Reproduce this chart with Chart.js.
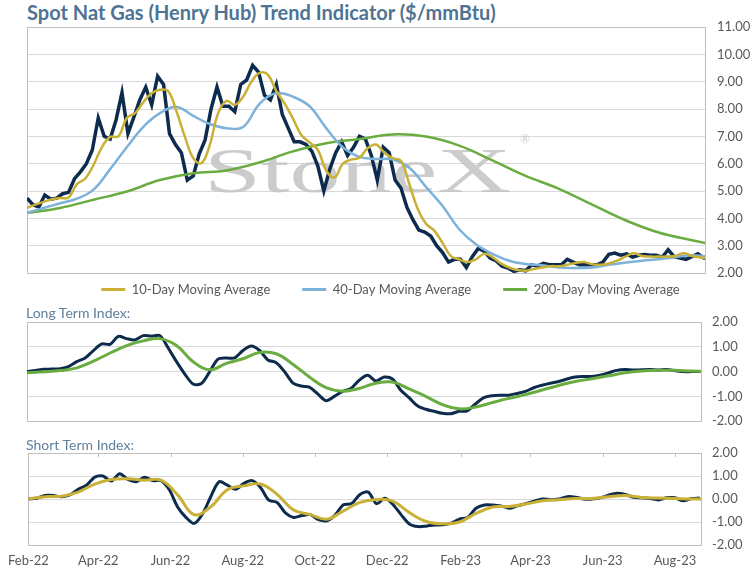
<!DOCTYPE html>
<html>
<head>
<meta charset="utf-8">
<script src="https://cdn.jsdelivr.net/npm/chart.js@4"></script>
<style>
body{margin:0;width:754px;height:573px;position:relative;background:#fff;overflow:hidden;font-family:Lato,sans-serif}
canvas{position:absolute;left:0}
#title{position:absolute;left:27px;top:0px;font-weight:bold;font-size:20px;color:#4e7394;white-space:nowrap}
.lbl{position:absolute;left:26px;color:#5f7f9b;font-size:14px;white-space:nowrap}
</style>
</head>
<body>
<div id="title">Spot Nat Gas (Henry Hub) Trend Indicator ($/mmBtu)</div>
<canvas id="priceChart" width="754" height="330" style="top:0"></canvas>
<div class="lbl" style="top:304px">Long Term Index:</div>
<canvas id="longChart" width="754" height="140" style="top:300px"></canvas>
<div class="lbl" style="top:436px">Short Term Index:</div>
<canvas id="shortChart" width="754" height="143" style="top:430px"></canvas>
<script>
// x values are days since 1 Feb 2022
var monthLabels = ['Feb-22','Apr-22','Jun-22','Aug-22','Oct-22','Dec-22','Feb-23','Apr-23','Jun-23','Aug-23'];
var monthTickDays = [0,59,120,181,242,303,365,424,485,546];

// spot price, one reading every 5 days
var spotPrice = [4.74,4.5,4.41,4.85,4.7,4.74,4.9,4.95,5.45,5.7,
  6.0,6.5,7.67,7.0,6.9,7.6,8.6,7.1,7.7,8.33,
  8.8,8.15,9.2,8.9,7.1,6.7,6.4,5.4,5.55,6.35,
  6.87,8.0,8.8,8.1,8.1,7.9,8.9,9.06,9.6,9.35,
  8.5,8.33,8.9,7.8,7.3,6.8,6.8,6.7,6.45,5.9,
  5.0,5.8,6.4,6.8,6.3,6.6,7.0,6.9,6.3,5.4,
  6.6,6.4,5.4,5.1,4.4,3.95,3.57,3.5,3.35,3.0,
  2.75,2.4,2.5,2.5,2.2,2.6,2.9,2.8,2.55,2.45,
  2.25,2.18,2.06,2.12,2.08,2.3,2.25,2.35,2.3,2.3,
  2.3,2.5,2.4,2.3,2.3,2.3,2.3,2.4,2.68,2.73,
  2.65,2.7,2.58,2.65,2.68,2.65,2.65,2.58,2.85,2.6,
  2.55,2.5,2.6,2.7,2.55,2.55];

// 10-day average, every 7 days
var ma10 = [4.38,4.5,4.6,4.7,4.74,4.76,5.25,5.45,5.95,6.6,
  6.98,7.0,7.67,7.85,8.25,8.58,8.7,8.65,7.9,6.98,
  6.2,6.02,6.7,7.85,8.3,8.15,8.45,9.0,9.32,9.25,
  8.65,8.2,7.65,7.05,6.78,6.5,5.75,5.5,6.0,6.15,
  6.22,6.57,6.7,6.4,6.2,6.1,5.25,4.35,3.8,3.55,
  3.1,2.62,2.5,2.4,2.5,2.7,2.58,2.35,2.2,2.11,
  2.08,2.15,2.2,2.25,2.25,2.3,2.37,2.4,2.32,2.3,
  2.35,2.45,2.6,2.72,2.62,2.6,2.6,2.6,2.62,2.72,
  2.62,2.57,2.55];

// 40-day average, every 14 days
var ma40 = [4.2,4.38,4.55,4.72,5.05,5.8,6.6,7.35,7.85,8.07,
  7.75,7.45,7.3,7.34,8.2,8.58,8.45,8.1,7.3,6.6,
  6.25,6.17,6.15,5.85,5.15,4.45,3.6,3.05,2.7,2.45,
  2.33,2.28,2.2,2.18,2.2,2.3,2.38,2.45,2.5,2.58,
  2.65,2.6];

// 200-day average, every 28 days
var ma200 = [4.2,4.38,4.68,4.98,5.4,5.65,5.75,6.05,6.45,6.75,
  6.9,7.07,6.99,6.66,6.12,5.55,5.08,4.5,3.93,3.48,
  3.2,2.95];

// long term index every 7 days, its signal every 14
var longTerm = [0,0.04,0.09,0.1,0.12,0.2,0.4,0.55,0.85,1.12,
  1.1,1.42,1.33,1.28,1.45,1.43,1.45,0.95,0.4,-0.1,
  -0.5,-0.48,0.0,0.5,0.55,0.55,0.85,1.03,0.85,0.47,
  0.36,0.0,-0.45,-0.58,-0.63,-0.9,-1.17,-1.0,-0.8,-0.68,
  -0.35,-0.15,-0.38,-0.22,-0.3,-0.75,-1.05,-1.38,-1.52,-1.6,
  -1.68,-1.7,-1.6,-1.58,-1.3,-1.05,-0.97,-0.95,-0.95,-0.88,
  -0.8,-0.65,-0.55,-0.47,-0.4,-0.3,-0.22,-0.2,-0.2,-0.15,
  -0.05,0.05,0.08,0.06,0.07,0.08,0.06,0.08,0.04,0.0,
  0.0,0.0];
var longSignal = [-0.05,-0.01,0.04,0.15,0.42,0.75,1.05,1.24,1.33,1.05,
  0.4,0.07,0.33,0.52,0.77,0.72,0.3,-0.22,-0.65,-0.79,
  -0.68,-0.47,-0.42,-0.7,-1.0,-1.33,-1.5,-1.43,-1.25,-1.08,
  -0.93,-0.74,-0.56,-0.4,-0.29,-0.17,-0.05,0.02,0.05,0.05,
  0.02,0];

// short term index every 7 days, its signal every 14
var shortTerm = [0,0.03,0.15,0.15,0.1,0.18,0.42,0.6,0.95,1.0,
  0.78,1.1,0.85,0.75,0.95,0.8,0.8,0.4,-0.35,-0.8,
  -1.06,-0.65,0.1,0.75,0.6,0.42,0.68,0.8,0.5,-0.05,
  -0.15,-0.6,-0.8,-0.72,-0.68,-0.9,-0.95,-0.7,-0.25,-0.2,
  0.2,0.3,-0.2,0.03,-0.25,-0.7,-1.1,-1.2,-1.18,-1.13,
  -1.12,-1.05,-0.88,-0.8,-0.4,-0.26,-0.26,-0.3,-0.4,-0.3,
  -0.2,-0.1,0,-0.03,0,0.1,0.08,0,0,0.05,
  0.17,0.25,0.2,0.08,0.05,0.02,-0.04,0.05,0.05,-0.08,
  0.02,0.04];
var shortSignal = [0,0.1,0.12,0.3,0.65,0.85,0.88,0.82,0.82,0.18,
  -0.68,-0.34,0.4,0.57,0.65,0.2,-0.48,-0.68,-0.88,-0.52,
  -0.15,-0.02,-0.1,-0.6,-0.98,-1.08,-1.0,-0.63,-0.35,-0.33,
  -0.22,-0.08,-0.03,0.02,0.02,0.1,0.15,0.07,0.04,0.02,
  0,0];

var NAVY = '#0d2b4d', GOLD = '#c9b037', BLUE = '#7db2da', GREEN = '#6aac40';
var GRID = '#d9d9d9', FRAME = '#bfbfbf';

Chart.defaults.font.family = 'Lato';
Chart.defaults.font.size = 13;
Chart.defaults.color = '#595959';
Chart.defaults.animation = false;
Chart.defaults.elements.point.radius = 0;
Chart.defaults.plugins.tooltip.enabled = false;

function pts(values, step) {
  return values.map(function(v, i) { return {x: i * step, y: v}; });
}

function line(label, values, step, color, width, tension) {
  return {label: label, data: pts(values, step), borderColor: color, backgroundColor: color,
    borderWidth: width, tension: tension, fill: false};
}

function yAxis(min, max, width, pad) {
  return {
    position: 'right', min: min, max: max,
    border: {display: false},
    grid: {color: GRID, drawTicks: false},
    ticks: {stepSize: 1, padding: pad, callback: function(v) { return v.toFixed(2); }},
    afterFit: function(s) { s.width = width; }
  };
}

var frame = {
  id: 'frame',
  beforeDatasetsDraw: function(chart) {
    var a = chart.chartArea, c = chart.ctx;
    c.save();
    c.strokeStyle = FRAME;
    c.lineWidth = 1;
    c.strokeRect(Math.round(a.left) + 0.5, Math.round(a.top) + 0.5,
      Math.round(a.right - a.left), Math.round(a.bottom - a.top));
    c.restore();
  }
};

var watermark = {
  id: 'watermark',
  beforeDatasetsDraw: function(chart) {
    var c = chart.ctx;
    c.save();
    c.fillStyle = 'rgba(195,195,195,0.85)';
    c.font = '64px "Liberation Serif"';
    c.translate(204, 175);
    c.scale(1.6, 1);
    c.fillText('StoneX', 0, 0);
    c.restore();
    c.save();
    c.fillStyle = 'rgba(195,195,195,0.85)';
    c.font = '13px "Liberation Serif"';
    c.fillText('\u00ae', 520, 140);
    c.restore();
  }
};

// pull the legend up close under the plot
var legendUp = {
  id: 'legendUp',
  afterLayout: function(chart) {
    var lg = chart.legend, h = lg.bottom - lg.top;
    lg.top = chart.chartArea.bottom - 22;
    lg.bottom = lg.top + h;
  }
};

var topTicks = {
  id: 'topTicks',
  afterDatasetsDraw: function(chart) {
    var x = chart.scales.x, a = chart.chartArea, c = chart.ctx;
    c.save();
    c.strokeStyle = FRAME;
    c.lineWidth = 1;
    c.beginPath();
    monthTickDays.forEach(function(d) {
      var px = Math.round(x.getPixelForValue(d)) + 0.5;
      c.moveTo(px, a.top);
      c.lineTo(px, a.top + 4);
    });
    c.stroke();
    c.restore();
  }
};

new Chart(document.getElementById('priceChart'), {
  type: 'line',
  data: {
    datasets: [
      line('10-Day Moving Average', ma10, 7, GOLD, 2.5, 0.4),
      line('40-Day Moving Average', ma40, 14, BLUE, 2.5, 0.4),
      line('200-Day Moving Average', ma200, 28, GREEN, 2.5, 0.4),
      line('Spot Price', spotPrice, 5, NAVY, 3.5, 0)
    ]
  },
  options: {
    responsive: false,
    layout: {padding: {left: 27, top: 27, right: 0, bottom: 2}},
    scales: {
      x: {type: 'linear', display: false, min: 0, max: 571},
      y: yAxis(2, 11, 49, 12)
    },
    plugins: {
      legend: {
        position: 'bottom',
        labels: {
          boxWidth: 24, boxHeight: 3, padding: 32, color: '#595959',
          filter: function(item) { return item.datasetIndex < 3; },
          generateLabels: function(chart) {
            return Chart.defaults.plugins.legend.labels.generateLabels(chart).map(function(l) {
              l.lineWidth = 0;
              return l;
            });
          }
        }
      }
    }
  },
  plugins: [frame, watermark, legendUp]
});

new Chart(document.getElementById('longChart'), {
  type: 'line',
  data: {
    datasets: [
      line('Long Term Signal', longSignal, 14, GREEN, 3, 0.4),
      line('Long Term Index', longTerm, 7, NAVY, 3, 0.3)
    ]
  },
  options: {
    responsive: false,
    layout: {padding: {left: 27, top: 22, right: 0, bottom: 17}},
    scales: {
      x: {type: 'linear', display: false, min: 0, max: 568},
      y: yAxis(-2, 2, 53, 11)
    },
    plugins: {legend: {display: false}}
  },
  plugins: [frame]
});

new Chart(document.getElementById('shortChart'), {
  type: 'line',
  data: {
    datasets: [
      line('Short Term Signal', shortSignal, 14, GOLD, 3, 0.4),
      line('Short Term Index', shortTerm, 7, NAVY, 3, 0.3)
    ]
  },
  options: {
    responsive: false,
    layout: {padding: {left: 27, top: 23, right: 0, bottom: 0}},
    scales: {
      x: {
        type: 'linear', min: 0, max: 568,
        border: {display: false},
        grid: {display: false, drawTicks: false},
        ticks: {padding: 8, autoSkip: false, maxRotation: 0,
          callback: function(v, i) { return monthLabels[i]; }},
        afterBuildTicks: function(s) {
          s.ticks = monthTickDays.map(function(d) { return {value: d}; });
        },
        afterFit: function(s) { s.height = 28; }
      },
      y: yAxis(-2, 2, 53, 11)
    },
    plugins: {legend: {display: false}}
  },
  plugins: [frame, topTicks]
});
</script>
</body>
</html>
